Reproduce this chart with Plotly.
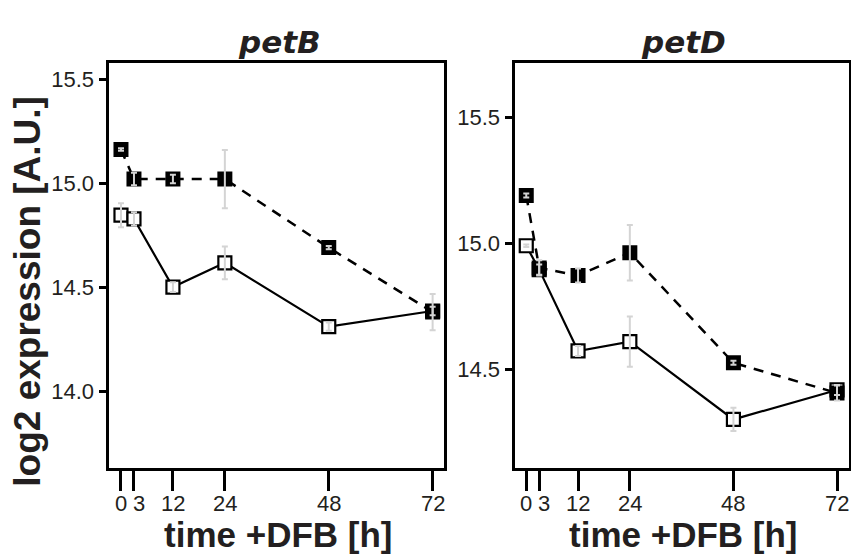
import plotly.graph_objects as go

# ---- data ----
time_h = [0, 3, 12, 24, 48, 72]
tick_labels_x = ["0", "3", "12", "24", "48", "72"]

petB_ctrl = [14.846, 14.828, 14.50, 14.617, 14.31, 14.385]
petB_ctrl_err = [0.058, 0.032, 0.024, 0.079, 0.02, 0.02]
petB_dfb = [15.162, 15.02, 15.02, 15.02, 14.69, 14.38]
petB_dfb_err = [0.006, 0.03, 0.02, 0.14, 0.008, 0.087]

petD_ctrl = [14.99, 14.895, 14.572, 14.609, 14.30, 14.417]
petD_ctrl_err = [0.005, 0.02, 0.02, 0.10, 0.046, 0.02]
petD_dfb = [15.19, 14.902, 14.872, 14.962, 14.525, 14.405]
petD_dfb_err = [0.008, 0.03, 0.028, 0.11, 0.008, 0.03]

panel_titles = ["petB", "petD"]
ytick_vals_B = [14.0, 14.5, 15.0, 15.5]
ytick_vals_D = [14.5, 15.0, 15.5]

W, H = 851, 556


def px(xp):
    return xp / W


def py(yp):
    return 1 - yp / H


TXT = "#231f20"
FONT = "Liberation Sans, Arial, Helvetica, sans-serif"
TFONT = "DejaVu Sans, Verdana, sans-serif"
ERRC = "#d4d4d4"
# the "3" label is nudged right in the original to clear the "0"
LABEL_XSHIFT = {"3": 5}

fig = go.Figure()

panels = [
    ("x", "y", petB_ctrl, petB_ctrl_err, petB_dfb, petB_dfb_err),
    ("x2", "y2", petD_ctrl, petD_ctrl_err, petD_dfb, petD_dfb_err),
]

for xa, ya, c, ce, d, de in panels:
    # control: open squares, solid line
    fig.add_trace(go.Scatter(
        x=time_h, y=c, xaxis=xa, yaxis=ya, mode="lines+markers",
        line=dict(color="black", width=2.2),
        marker=dict(symbol="square", size=13, color="white",
                    line=dict(color="black", width=2.2)),
        showlegend=False, hoverinfo="skip"))
    # DFB: filled squares, dashed line
    fig.add_trace(go.Scatter(
        x=time_h, y=d, xaxis=xa, yaxis=ya, mode="lines+markers",
        line=dict(color="black", width=2.5, dash="10px,8px"),
        marker=dict(symbol="square", size=13, color="black",
                    line=dict(color="black", width=2)),
        showlegend=False, hoverinfo="skip"))
    # error bars on top
    for yy, ee in ((c, ce), (d, de)):
        fig.add_trace(go.Scatter(
            x=time_h, y=yy, xaxis=xa, yaxis=ya, mode="markers",
            marker=dict(size=1, color="rgba(0,0,0,0)"),
            error_y=dict(type="data", array=ee, visible=True,
                         color=ERRC, thickness=2, width=3),
            showlegend=False, hoverinfo="skip"))

LW = 2.5
# box lines centred at: left panel x 108..445.7, right panel x 514..850, y 62..469
xdom1 = [px(108 + LW / 2), px(445.7 - LW / 2)]
xdom2 = [px(514 + LW / 2), px(850 - LW / 2)]
ydom = [py(469 - LW / 2), py(62 + LW / 2)]

common_x = dict(tickvals=time_h, showticklabels=False,
                ticks="outside", ticklen=20, tickwidth=2.5, tickcolor="black",
                showline=True, linecolor="black", linewidth=LW, mirror=True,
                showgrid=False, zeroline=False)
common_y = dict(ticks="outside", ticklen=8, tickwidth=2.5, tickcolor="black",
                showline=True, linecolor="black", linewidth=LW, mirror=True,
                showgrid=False, zeroline=False, tickangle=0,
                tickfont=dict(family=FONT, size=22, color=TXT))

fig.update_layout(
    width=W, height=H,
    margin=dict(l=0, r=0, t=0, b=0),
    paper_bgcolor="white", plot_bgcolor="white",
    xaxis=dict(domain=xdom1, anchor="y", range=[-2.71, 74.73], **common_x),
    xaxis2=dict(domain=xdom2, anchor="y2", range=[-2.55, 74.72], **common_x),
    yaxis=dict(domain=ydom, anchor="x", range=[13.631, 15.577],
               tickvals=ytick_vals_B, ticktext=[f"{v:.1f}" for v in ytick_vals_B],
               **common_y),
    yaxis2=dict(domain=ydom, anchor="x2", range=[14.108, 15.715],
                tickvals=ytick_vals_D, ticktext=[f"{v:.1f}" for v in ytick_vals_D],
                **common_y),
)

annotations = []
# x tick labels placed through each panel's own x scale
for xr in ("x", "x2"):
    for t, lab in zip(time_h, tick_labels_x):
        annotations.append(dict(
            text=lab, x=t, xref=xr, y=py(503.5), yref="paper",
            xanchor="center", yanchor="middle", showarrow=False,
            xshift=LABEL_XSHIFT.get(lab, 0),
            font=dict(family=FONT, size=22, color=TXT)))

for title, cx in zip(panel_titles, (279, 683)):
    annotations.append(dict(
        text=f"<b><i>{title}</i></b>", x=px(cx), y=py(42), xref="paper", yref="paper",
        xanchor="center", yanchor="middle", showarrow=False,
        font=dict(family=TFONT, size=31, color=TXT)))
for cx in (278, 682.5):
    annotations.append(dict(
        text="<b>time +DFB [h]</b>", x=px(cx), y=py(534.6), xref="paper", yref="paper",
        xanchor="center", yanchor="middle", showarrow=False,
        font=dict(family=FONT, size=35, color=TXT)))

annotations.append(dict(
    text="<b>log2 expression [A.U.]</b>", x=px(28), y=py(291.7),
    xref="paper", yref="paper", xanchor="center", yanchor="middle",
    textangle=-90, showarrow=False,
    font=dict(family=FONT, size=37, color=TXT)))

fig.update_layout(annotations=annotations)

fig.write_html(
    "out.html",
    config={"displayModeBar": False},
    post_script="document.body.style.margin='0';document.body.style.overflow='hidden';",
)
